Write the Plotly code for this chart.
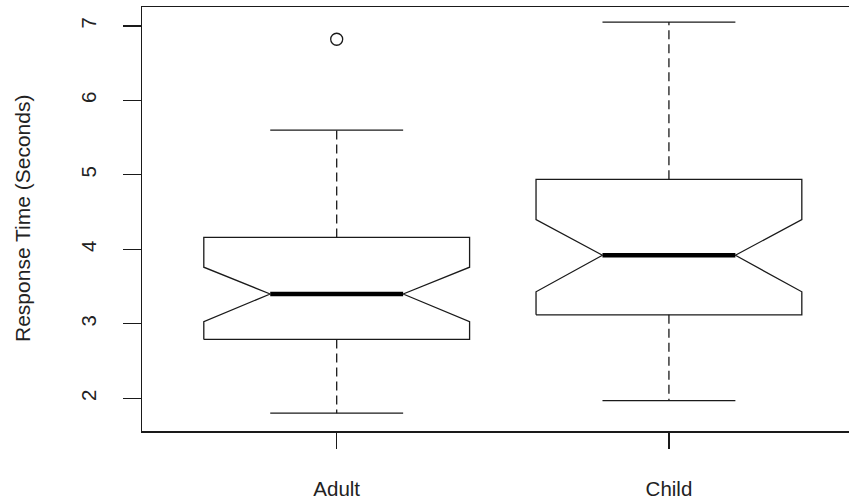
import plotly.graph_objects as go

# ---- data ----
groups = ["Adult", "Child"]
lower_whisker = [1.80, 1.97]
q1 = [2.79, 3.12]
notch_low = [3.03, 3.43]
median = [3.40, 3.92]
notch_high = [3.76, 4.40]
q3 = [4.16, 4.94]
upper_whisker = [5.60, 7.05]
outlier_group = ["Adult"]
outlier_value = [6.82]

y_tick_vals = [2, 3, 4, 5, 6, 7]
y_title = "Response Time (Seconds)"

# ---- style ----
INK = "#1a1a1a"
LW = 1.3
HALF_BOX = 0.4
HALF_NOTCH = 0.2
HALF_CAP = 0.2
FONT = "Liberation Sans, Arial, sans-serif"
FS_TICK = 20.5
FS_TITLE = 21

fig = go.Figure()
pos = {g: i + 1 for i, g in enumerate(groups)}

for i, g in enumerate(groups):
    x = pos[g]
    # notched box outline
    xs = [x - HALF_BOX, x - HALF_BOX, x - HALF_NOTCH, x - HALF_BOX, x - HALF_BOX,
          x + HALF_BOX, x + HALF_BOX, x + HALF_NOTCH, x + HALF_BOX, x + HALF_BOX,
          x - HALF_BOX]
    ys = [q1[i], notch_low[i], median[i], notch_high[i], q3[i],
          q3[i], notch_high[i], median[i], notch_low[i], q1[i], q1[i]]
    fig.add_trace(go.Scatter(x=xs, y=ys, mode="lines",
                             line=dict(color=INK, width=LW), hoverinfo="skip"))
    # median
    fig.add_trace(go.Scatter(x=[x - HALF_NOTCH, x + HALF_NOTCH], y=[median[i], median[i]],
                             mode="lines", line=dict(color="#000", width=4.5), hoverinfo="skip"))
    # whiskers (dashed)
    fig.add_trace(go.Scatter(x=[x, x], y=[q3[i], upper_whisker[i]], mode="lines",
                             line=dict(color=INK, width=LW, dash="9px,5px"), hoverinfo="skip"))
    fig.add_trace(go.Scatter(x=[x, x], y=[q1[i], lower_whisker[i]], mode="lines",
                             line=dict(color=INK, width=LW, dash="9px,5px"), hoverinfo="skip"))
    # staples
    for v in (upper_whisker[i], lower_whisker[i]):
        fig.add_trace(go.Scatter(x=[x - HALF_CAP, x + HALF_CAP], y=[v, v], mode="lines",
                                 line=dict(color=INK, width=LW), hoverinfo="skip"))

fig.add_trace(go.Scatter(x=[pos[g] for g in outlier_group], y=outlier_value, mode="markers",
                         marker=dict(symbol="circle-open", size=12, color=INK,
                                     line=dict(width=1.3, color=INK)),
                         hoverinfo="skip"))

fig.update_layout(
    width=849, height=502,
    margin=dict(l=142, r=0, t=7, b=71, autoexpand=False),
    paper_bgcolor="white", plot_bgcolor="white",
    showlegend=False,
    hovermode=False,
    font=dict(family=FONT, size=FS_TICK, color="#222"),
    xaxis=dict(range=[0.414, 2.542], tickvals=[1, 2], ticktext=groups,
               showgrid=False, zeroline=False, showline=True, mirror=True,
               linecolor=INK, linewidth=1.5, ticks="outside", ticklen=16,
               tickwidth=1.3, tickcolor=INK, ticklabelstandoff=23, automargin=False),
    yaxis=dict(range=[1.561, 7.253], tickvals=y_tick_vals,
               showgrid=False, zeroline=False, showline=True, mirror=False,
               linecolor=INK, linewidth=1.5, ticks="outside", ticklen=18,
               tickwidth=1.3, tickcolor=INK, tickangle=-90, ticklabelstandoff=18,
               automargin=False),
    annotations=[dict(text=y_title, xref="paper", yref="paper", x=0, y=0.5,
                      xanchor="center", yanchor="middle", xshift=-120,
                      textangle=-90, showarrow=False,
                      font=dict(family=FONT, size=FS_TITLE, color="#222"))],
)

# remove the browser's default 8px body margin so the figure fills the window exactly
fig.write_html("out.html",
               config={"displayModeBar": False, "staticPlot": True},
               post_script="document.body.style.margin='0';document.body.style.overflow='hidden';")
